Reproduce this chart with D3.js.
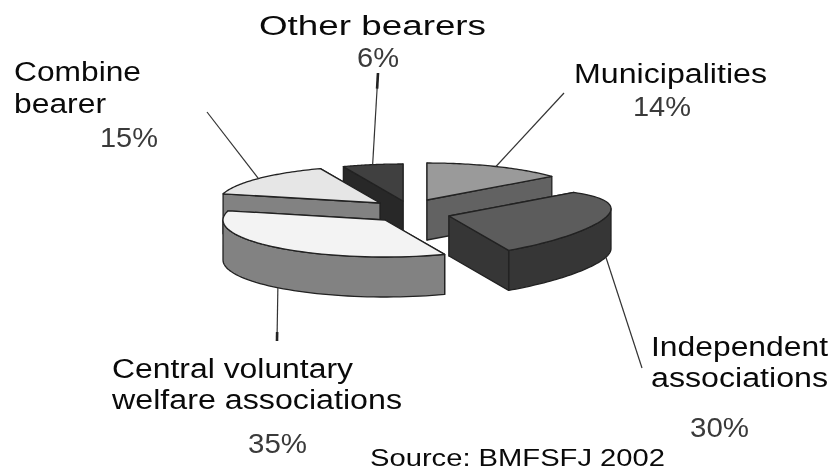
<!DOCTYPE html>
<html><head><meta charset="utf-8">
<script src="https://cdn.jsdelivr.net/npm/d3@7"></script>
<style>html,body{margin:0;padding:0;background:#fff}svg{display:block}text{font-family:"Liberation Sans",Arial,sans-serif}</style>
</head><body><svg id="c" width="833" height="471"></svg>
<script>
const categories=["Municipalities","Independent associations","Central voluntary welfare associations","Combine bearer","Other bearers"];
const shares=[14,30,35,15,6];
const topColors=["#9a9a9a","#5c5c5c","#f3f3f3","#e6e6e6","#404040"];
const wallColors=["#626262","#363636","#828282","#828282","#282828"];
const apexX=[427,449,385,380,403];
const apexY=[200,216,220,203,201];
const rimLift=[0,8,0,0,0];
const paintOrder=[4,0,3,1,2];
const labelLines=[["Municipalities"],["Independent","associations"],["Central voluntary","welfare associations"],["Combine","bearer"],["Other bearers"]];
const labelX=[574,651,112,14,259];
const labelY=[83,356,378,81,35];
const labelW=[[193],[177,177],[241,290],[127,92],[227]];
const pctX=[633,690,248,100,357];
const pctY=[116,437,453,147,67];
const pctW=[58,59,59,58,42];
const leaderEndX=[564,642,277,207,378];
const leaderEndY=[93,368,341,112,73];
const leaderFront=[0,1,1,0,0];
const thickTip=[0,0,1,0,1];
const sourceText="Source: BMFSFJ 2002";
const depth=40;

const svg=d3.select("#c");
const root=svg.append("g").style("filter","blur(0.45px)");
const sx=d3.scaleLinear().domain([-1,1]).range([-162,162]);
const sy=d3.scaleLinear().domain([-1,1]).range([-37,37]);
const arcs=d3.pie().sort(null).value(d=>d)(shares);
const bump=(i,a)=>{const d=arcs[i];return rimLift[i]*Math.sin(Math.PI*(a-d.startAngle)/(d.endAngle-d.startAngle));};
const pt=(i,a)=>[apexX[i]+sx(Math.sin(a)),apexY[i]-sy(Math.cos(a))-bump(i,a)];
const arcPts=(i,a0,a1)=>d3.range(0,49).map(k=>pt(i,a0+(a1-a0)*k/48));
const down=p=>[p[0],p[1]+depth];
const line=d3.line();
const poly=pts=>line(pts)+"Z";
const edge="#222";

paintOrder.forEach(i=>{
  const {startAngle:a0,endAngle:a1}=arcs[i];
  const apex=[apexX[i],apexY[i]];
  const rim=arcPts(i,a0,a1);
  const g=root.append("g");
  const walls=[[apex,rim[0]],[rim[rim.length-1],apex]];
  const f0=Math.max(a0,Math.PI/2), f1=Math.min(a1,Math.PI*1.5);
  if(f1>f0) walls.push(arcPts(i,f0,f1));
  walls.map(top=>({top,key:d3.mean(top,p=>p[1])})).sort((a,b)=>a.key-b.key).forEach(w=>{
    g.append("path").attr("d",poly(w.top.concat(w.top.map(down).reverse())))
      .attr("fill",wallColors[i]).attr("stroke",edge).attr("stroke-width",1.3).attr("stroke-linejoin","round");
  });
  g.append("path").attr("d",poly([apex].concat(rim)))
    .attr("fill",topColors[i]).attr("stroke",edge).attr("stroke-width",1.3).attr("stroke-linejoin","round");
});

arcs.forEach((d,i)=>{
  const mid=(d.startAngle+d.endAngle)/2;
  const p=pt(i,mid);
  const s=leaderFront[i]?down(p):p;
  const e=[leaderEndX[i],leaderEndY[i]];
  root.append("line").attr("x1",s[0]).attr("y1",s[1]).attr("x2",e[0]).attr("y2",e[1])
    .attr("stroke","#333").attr("stroke-width",1.2);
  if(thickTip[i]){
    const t=d3.interpolateArray(e,s)(0.17);
    root.append("line").attr("x1",e[0]).attr("y1",e[1]).attr("x2",t[0]).attr("y2",t[1])
      .attr("stroke","#222").attr("stroke-width",2.6);
  }
  labelLines[i].forEach((txt,k)=>{
    root.append("text").attr("x",labelX[i]).attr("y",labelY[i]+k*(i===1||i===2?30.5:32))
      .attr("font-size",27).attr("fill","#0a0a0a")
      .attr("textLength",labelW[i][k]).attr("lengthAdjust","spacingAndGlyphs").text(txt);
  });
  root.append("text").attr("x",pctX[i]).attr("y",pctY[i]).attr("font-size",27).attr("fill","#3a3a3a")
    .attr("textLength",pctW[i]).attr("lengthAdjust","spacingAndGlyphs").text(d.data+"%");
});
root.append("text").attr("x",370).attr("y",466).attr("font-size",24).attr("fill","#0a0a0a")
  .attr("textLength",295).attr("lengthAdjust","spacingAndGlyphs").text(sourceText);
</script></body></html>
